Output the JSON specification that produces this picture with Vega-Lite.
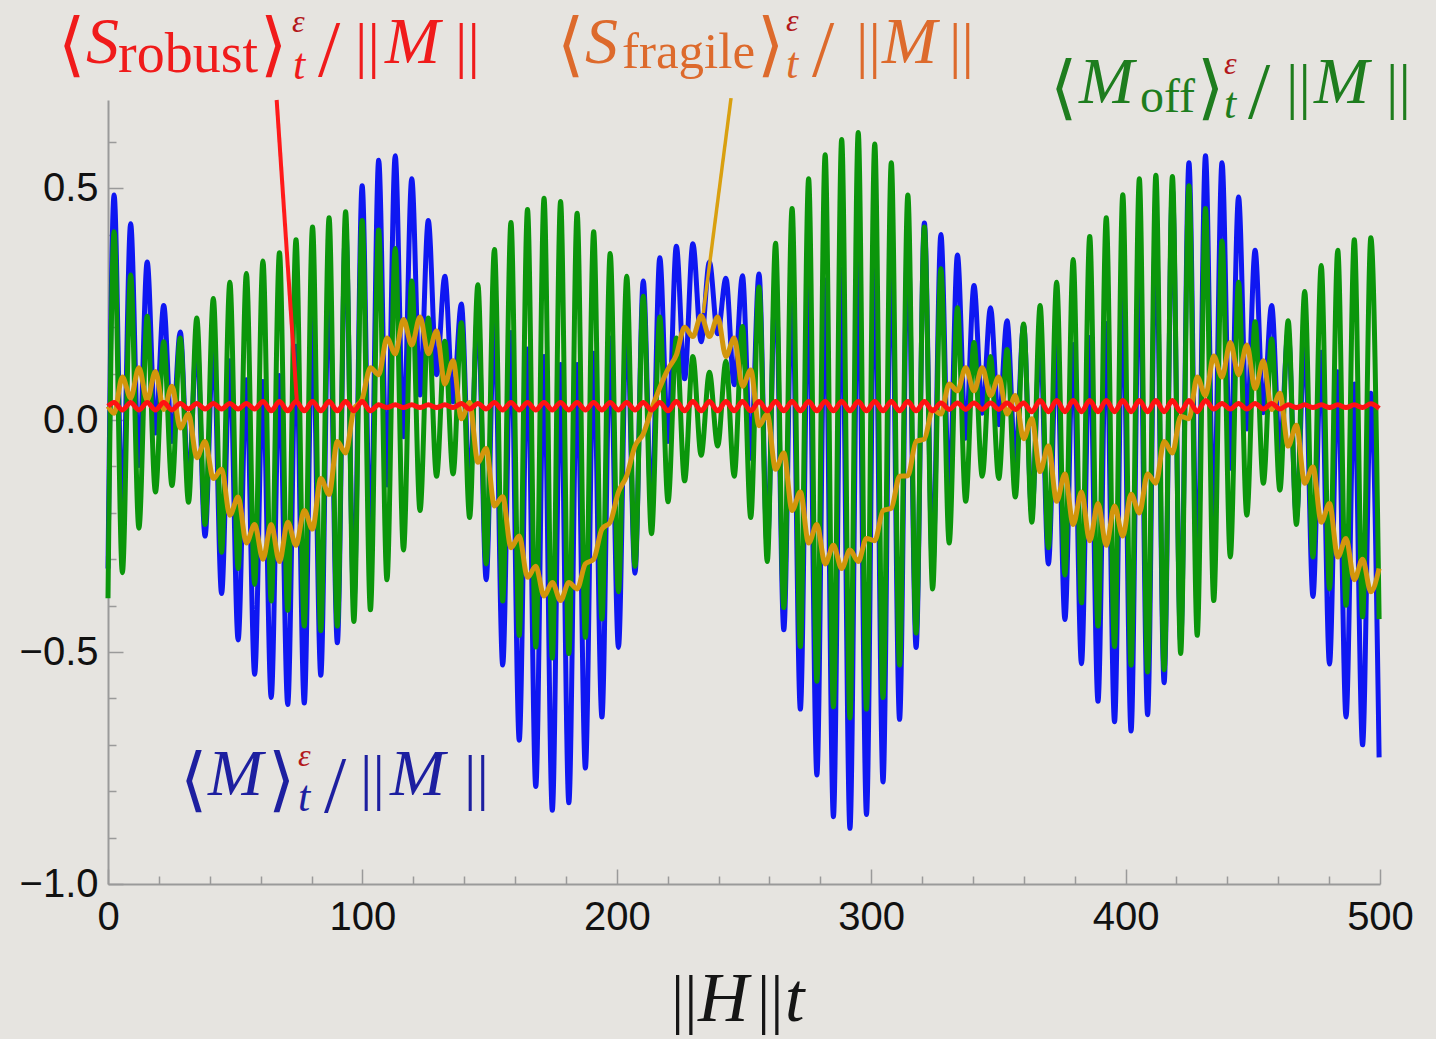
{
"$schema": "https://vega.github.io/schema/vega-lite/v6.json",
"width": 1272, "height": 784,
"autosize": {"type": "none"},
"padding": {"left": 108, "top": 100, "right": 56, "bottom": 155},
"background": "#e6e4e0",
"config": {"view": {"stroke": null}},
"datasets": {"d": [
{"t":0,"M":-0.32,"Moff":-0.384,"Sf":0.03,"Sr":0.03},
{"t":2.4,"M":0.485,"Moff":0.406,"Sf":0.015,"Sr":0.038},
{"t":5.65,"M":-0.214,"Moff":-0.329,"Sf":0.093,"Sr":0.022},
{"t":8.9,"M":0.423,"Moff":0.313,"Sf":0.048,"Sr":0.038},
{"t":12.15,"M":-0.098,"Moff":-0.233,"Sf":0.113,"Sr":0.022},
{"t":15.4,"M":0.341,"Moff":0.224,"Sf":0.043,"Sr":0.038},
{"t":18.65,"M":-0.028,"Moff":-0.155,"Sf":0.105,"Sr":0.022},
{"t":21.9,"M":0.247,"Moff":0.169,"Sf":0.023,"Sr":0.038},
{"t":25.15,"M":-0.046,"Moff":-0.141,"Sf":0.073,"Sr":0.022},
{"t":28.4,"M":0.19,"Moff":0.177,"Sf":-0.017,"Sr":0.036},
{"t":31.65,"M":-0.14,"Moff":-0.177,"Sf":0.013,"Sr":0.024},
{"t":34.9,"M":0.175,"Moff":0.22,"Sf":-0.081,"Sr":0.036},
{"t":38.15,"M":-0.25,"Moff":-0.225,"Sf":-0.046,"Sr":0.024},
{"t":41.4,"M":0.172,"Moff":0.262,"Sf":-0.126,"Sr":0.036},
{"t":44.65,"M":-0.374,"Moff":-0.285,"Sf":-0.106,"Sr":0.024},
{"t":47.9,"M":0.128,"Moff":0.297,"Sf":-0.205,"Sr":0.036},
{"t":51.15,"M":-0.474,"Moff":-0.32,"Sf":-0.166,"Sr":0.024},
{"t":54.4,"M":0.087,"Moff":0.316,"Sf":-0.265,"Sr":0.036},
{"t":57.65,"M":-0.548,"Moff":-0.354,"Sf":-0.225,"Sr":0.024},
{"t":60.9,"M":0.083,"Moff":0.343,"Sf":-0.3,"Sr":0.04},
{"t":64.15,"M":-0.598,"Moff":-0.39,"Sf":-0.225,"Sr":0.02},
{"t":67.4,"M":0.096,"Moff":0.361,"Sf":-0.305,"Sr":0.04},
{"t":70.65,"M":-0.613,"Moff":-0.41,"Sf":-0.22,"Sr":0.02},
{"t":73.9,"M":0.159,"Moff":0.389,"Sf":-0.27,"Sr":0.04},
{"t":77.15,"M":-0.61,"Moff":-0.444,"Sf":-0.195,"Sr":0.02},
{"t":80.4,"M":0.221,"Moff":0.416,"Sf":-0.235,"Sr":0.04},
{"t":83.65,"M":-0.55,"Moff":-0.454,"Sf":-0.126,"Sr":0.02},
{"t":86.9,"M":0.316,"Moff":0.436,"Sf":-0.16,"Sr":0.04},
{"t":90.15,"M":-0.48,"Moff":-0.444,"Sf":-0.046,"Sr":0.02},
{"t":93.4,"M":0.418,"Moff":0.449,"Sf":-0.071,"Sr":0.04},
{"t":96.65,"M":-0.391,"Moff":-0.434,"Sf":0.023,"Sr":0.02},
{"t":99.9,"M":0.505,"Moff":0.43,"Sf":0.045,"Sr":0.04},
{"t":103.15,"M":-0.276,"Moff":-0.409,"Sf":0.113,"Sr":0.02},
{"t":106.4,"M":0.56,"Moff":0.41,"Sf":0.098,"Sr":0.033},
{"t":109.65,"M":-0.14,"Moff":-0.344,"Sf":0.177,"Sr":0.027},
{"t":112.9,"M":0.57,"Moff":0.37,"Sf":0.143,"Sr":0.033},
{"t":116.15,"M":-0.036,"Moff":-0.28,"Sf":0.217,"Sr":0.027},
{"t":119.4,"M":0.52,"Moff":0.3,"Sf":0.162,"Sr":0.033},
{"t":122.65,"M":0.054,"Moff":-0.195,"Sf":0.222,"Sr":0.027},
{"t":125.9,"M":0.43,"Moff":0.22,"Sf":0.143,"Sr":0.033},
{"t":129.15,"M":0.098,"Moff":-0.121,"Sf":0.192,"Sr":0.027},
{"t":132.4,"M":0.31,"Moff":0.17,"Sf":0.078,"Sr":0.033},
{"t":135.65,"M":0.039,"Moff":-0.116,"Sf":0.128,"Sr":0.027},
{"t":138.9,"M":0.25,"Moff":0.21,"Sf":0.003,"Sr":0.036},
{"t":142.15,"M":-0.148,"Moff":-0.21,"Sf":0.038,"Sr":0.024},
{"t":145.4,"M":0.237,"Moff":0.292,"Sf":-0.091,"Sr":0.036},
{"t":148.65,"M":-0.344,"Moff":-0.31,"Sf":-0.061,"Sr":0.024},
{"t":151.9,"M":0.221,"Moff":0.368,"Sf":-0.185,"Sr":0.038},
{"t":155.15,"M":-0.528,"Moff":-0.39,"Sf":-0.165,"Sr":0.022},
{"t":158.4,"M":0.189,"Moff":0.426,"Sf":-0.275,"Sr":0.038},
{"t":161.65,"M":-0.69,"Moff":-0.464,"Sf":-0.25,"Sr":0.022},
{"t":164.9,"M":0.153,"Moff":0.454,"Sf":-0.339,"Sr":0.038},
{"t":168.15,"M":-0.79,"Moff":-0.489,"Sf":-0.315,"Sr":0.022},
{"t":171.4,"M":0.137,"Moff":0.478,"Sf":-0.379,"Sr":0.038},
{"t":174.65,"M":-0.841,"Moff":-0.513,"Sf":-0.35,"Sr":0.022},
{"t":177.9,"M":0.12,"Moff":0.471,"Sf":-0.389,"Sr":0.038},
{"t":181.15,"M":-0.825,"Moff":-0.503,"Sf":-0.35,"Sr":0.022},
{"t":184.4,"M":0.12,"Moff":0.446,"Sf":-0.364,"Sr":0.038},
{"t":187.65,"M":-0.75,"Moff":-0.468,"Sf":-0.31,"Sr":0.022},
{"t":190.9,"M":0.144,"Moff":0.406,"Sf":-0.3,"Sr":0.038},
{"t":194.15,"M":-0.64,"Moff":-0.429,"Sf":-0.235,"Sr":0.022},
{"t":197.4,"M":0.177,"Moff":0.359,"Sf":-0.22,"Sr":0.038},
{"t":200.65,"M":-0.49,"Moff":-0.37,"Sf":-0.155,"Sr":0.022},
{"t":203.9,"M":0.228,"Moff":0.31,"Sf":-0.12,"Sr":0.038},
{"t":207.15,"M":-0.33,"Moff":-0.315,"Sf":-0.056,"Sr":0.022},
{"t":210.4,"M":0.3,"Moff":0.267,"Sf":-0.03,"Sr":0.038},
{"t":213.65,"M":-0.2,"Moff":-0.245,"Sf":0.023,"Sr":0.022},
{"t":216.9,"M":0.35,"Moff":0.222,"Sf":0.07,"Sr":0.038},
{"t":220.15,"M":-0.046,"Moff":-0.176,"Sf":0.11,"Sr":0.02},
{"t":223.4,"M":0.375,"Moff":0.177,"Sf":0.14,"Sr":0.04},
{"t":226.65,"M":0.089,"Moff":-0.131,"Sf":0.2,"Sr":0.02},
{"t":229.9,"M":0.38,"Moff":0.137,"Sf":0.18,"Sr":0.04},
{"t":233.15,"M":0.169,"Moff":-0.076,"Sf":0.225,"Sr":0.02},
{"t":236.4,"M":0.341,"Moff":0.103,"Sf":0.18,"Sr":0.04},
{"t":239.65,"M":0.186,"Moff":-0.056,"Sf":0.222,"Sr":0.02},
{"t":242.9,"M":0.306,"Moff":0.127,"Sf":0.137,"Sr":0.04},
{"t":246.15,"M":0.076,"Moff":-0.121,"Sf":0.177,"Sr":0.02},
{"t":249.4,"M":0.311,"Moff":0.202,"Sf":0.073,"Sr":0.04},
{"t":252.65,"M":-0.082,"Moff":-0.21,"Sf":0.108,"Sr":0.02},
{"t":255.9,"M":0.315,"Moff":0.287,"Sf":-0.012,"Sr":0.04},
{"t":259.15,"M":-0.272,"Moff":-0.305,"Sf":0.013,"Sr":0.02},
{"t":262.4,"M":0.315,"Moff":0.381,"Sf":-0.106,"Sr":0.04},
{"t":265.65,"M":-0.452,"Moff":-0.404,"Sf":-0.071,"Sr":0.02},
{"t":268.9,"M":0.301,"Moff":0.456,"Sf":-0.195,"Sr":0.04},
{"t":272.15,"M":-0.623,"Moff":-0.488,"Sf":-0.155,"Sr":0.02},
{"t":275.4,"M":0.295,"Moff":0.52,"Sf":-0.265,"Sr":0.04},
{"t":278.65,"M":-0.765,"Moff":-0.563,"Sf":-0.225,"Sr":0.02},
{"t":281.9,"M":0.302,"Moff":0.572,"Sf":-0.31,"Sr":0.04},
{"t":285.15,"M":-0.855,"Moff":-0.618,"Sf":-0.27,"Sr":0.02},
{"t":288.4,"M":0.325,"Moff":0.605,"Sf":-0.32,"Sr":0.04},
{"t":291.65,"M":-0.88,"Moff":-0.642,"Sf":-0.28,"Sr":0.02},
{"t":294.9,"M":0.355,"Moff":0.62,"Sf":-0.305,"Sr":0.04},
{"t":298.15,"M":-0.85,"Moff":-0.623,"Sf":-0.255,"Sr":0.02},
{"t":301.4,"M":0.375,"Moff":0.595,"Sf":-0.26,"Sr":0.04},
{"t":304.65,"M":-0.78,"Moff":-0.598,"Sf":-0.195,"Sr":0.02},
{"t":307.9,"M":0.405,"Moff":0.555,"Sf":-0.19,"Sr":0.04},
{"t":311.15,"M":-0.645,"Moff":-0.528,"Sf":-0.121,"Sr":0.02},
{"t":314.4,"M":0.405,"Moff":0.485,"Sf":-0.12,"Sr":0.04},
{"t":317.65,"M":-0.49,"Moff":-0.459,"Sf":-0.046,"Sr":0.02},
{"t":320.9,"M":0.425,"Moff":0.416,"Sf":-0.041,"Sr":0.04},
{"t":324.15,"M":-0.321,"Moff":-0.364,"Sf":0.023,"Sr":0.02},
{"t":327.4,"M":0.4,"Moff":0.326,"Sf":0.013,"Sr":0.037},
{"t":330.65,"M":-0.164,"Moff":-0.265,"Sf":0.078,"Sr":0.023},
{"t":333.9,"M":0.356,"Moff":0.242,"Sf":0.063,"Sr":0.037},
{"t":337.15,"M":-0.039,"Moff":-0.175,"Sf":0.113,"Sr":0.023},
{"t":340.4,"M":0.29,"Moff":0.167,"Sf":0.063,"Sr":0.037},
{"t":343.65,"M":0.015,"Moff":-0.121,"Sf":0.113,"Sr":0.023},
{"t":346.9,"M":0.242,"Moff":0.137,"Sf":0.053,"Sr":0.037},
{"t":350.15,"M":-0.01,"Moff":-0.126,"Sf":0.093,"Sr":0.023},
{"t":353.4,"M":0.214,"Moff":0.152,"Sf":0.013,"Sr":0.037},
{"t":356.65,"M":-0.09,"Moff":-0.166,"Sf":0.053,"Sr":0.023},
{"t":359.9,"M":0.204,"Moff":0.207,"Sf":-0.04,"Sr":0.037},
{"t":363.15,"M":-0.2,"Moff":-0.22,"Sf":0.003,"Sr":0.018},
{"t":366.4,"M":0.178,"Moff":0.247,"Sf":-0.111,"Sr":0.042},
{"t":369.65,"M":-0.31,"Moff":-0.275,"Sf":-0.056,"Sr":0.018},
{"t":372.9,"M":0.164,"Moff":0.297,"Sf":-0.175,"Sr":0.042},
{"t":376.15,"M":-0.43,"Moff":-0.334,"Sf":-0.116,"Sr":0.018},
{"t":379.4,"M":0.163,"Moff":0.346,"Sf":-0.225,"Sr":0.042},
{"t":382.65,"M":-0.525,"Moff":-0.394,"Sf":-0.155,"Sr":0.018},
{"t":385.9,"M":0.178,"Moff":0.396,"Sf":-0.26,"Sr":0.042},
{"t":389.15,"M":-0.606,"Moff":-0.444,"Sf":-0.18,"Sr":0.018},
{"t":392.4,"M":0.208,"Moff":0.436,"Sf":-0.27,"Sr":0.042},
{"t":395.65,"M":-0.65,"Moff":-0.488,"Sf":-0.185,"Sr":0.018},
{"t":398.9,"M":0.278,"Moff":0.486,"Sf":-0.25,"Sr":0.042},
{"t":402.15,"M":-0.67,"Moff":-0.528,"Sf":-0.16,"Sr":0.018},
{"t":405.4,"M":0.362,"Moff":0.52,"Sf":-0.2,"Sr":0.042},
{"t":408.65,"M":-0.635,"Moff":-0.543,"Sf":-0.116,"Sr":0.018},
{"t":411.9,"M":0.434,"Moff":0.528,"Sf":-0.136,"Sr":0.042},
{"t":415.15,"M":-0.566,"Moff":-0.538,"Sf":-0.046,"Sr":0.018},
{"t":418.4,"M":0.496,"Moff":0.525,"Sf":-0.071,"Sr":0.042},
{"t":421.65,"M":-0.477,"Moff":-0.503,"Sf":0.008,"Sr":0.018},
{"t":424.9,"M":0.555,"Moff":0.505,"Sf":0.003,"Sr":0.042},
{"t":428.15,"M":-0.353,"Moff":-0.464,"Sf":0.093,"Sr":0.018},
{"t":431.4,"M":0.57,"Moff":0.456,"Sf":0.053,"Sr":0.042},
{"t":434.65,"M":-0.227,"Moff":-0.389,"Sf":0.138,"Sr":0.024},
{"t":437.9,"M":0.555,"Moff":0.386,"Sf":0.093,"Sr":0.036},
{"t":441.15,"M":-0.104,"Moff":-0.295,"Sf":0.167,"Sr":0.024},
{"t":444.4,"M":0.481,"Moff":0.297,"Sf":0.098,"Sr":0.036},
{"t":447.65,"M":-0.019,"Moff":-0.205,"Sf":0.162,"Sr":0.024},
{"t":450.9,"M":0.366,"Moff":0.212,"Sf":0.068,"Sr":0.036},
{"t":454.15,"M":0.016,"Moff":-0.136,"Sf":0.128,"Sr":0.024},
{"t":457.4,"M":0.247,"Moff":0.175,"Sf":0.023,"Sr":0.036},
{"t":460.65,"M":-0.069,"Moff":-0.151,"Sf":0.058,"Sr":0.024},
{"t":463.9,"M":0.191,"Moff":0.214,"Sf":-0.056,"Sr":0.033},
{"t":467.15,"M":-0.209,"Moff":-0.225,"Sf":-0.011,"Sr":0.027},
{"t":470.4,"M":0.174,"Moff":0.277,"Sf":-0.136,"Sr":0.033},
{"t":473.65,"M":-0.38,"Moff":-0.295,"Sf":-0.101,"Sr":0.027},
{"t":476.9,"M":0.146,"Moff":0.333,"Sf":-0.22,"Sr":0.033},
{"t":480.15,"M":-0.526,"Moff":-0.364,"Sf":-0.18,"Sr":0.027},
{"t":483.4,"M":0.104,"Moff":0.366,"Sf":-0.295,"Sr":0.033},
{"t":486.65,"M":-0.64,"Moff":-0.399,"Sf":-0.255,"Sr":0.027},
{"t":489.9,"M":0.078,"Moff":0.389,"Sf":-0.344,"Sr":0.033},
{"t":493.15,"M":-0.7,"Moff":-0.424,"Sf":-0.3,"Sr":0.027},
{"t":496.4,"M":0.058,"Moff":0.393,"Sf":-0.37,"Sr":0.035},
{"t":499.65,"M":-0.727,"Moff":-0.429,"Sf":-0.32,"Sr":0.025}
], "one": [{"k": 1}]},
"layer": [
  {"data": {"name": "d"},
   "mark": {"type": "line", "color": "#0f17f2", "strokeWidth": 5, "interpolate": "monotone"},
   "encoding": {
     "x": {"field": "t", "type": "quantitative",
       "scale": {"domain": [0, 500], "nice": false, "zero": false},
       "axis": {
         "title": null,
         "values": [0,20,40,60,80,100,120,140,160,180,200,220,240,260,280,300,320,340,360,380,400,420,440,460,480,500],
         "format": "d",
         "labelExpr": "datum.value % 100 === 0 ? datum.label : ''",
         "labelFont": "Liberation Sans", "labelFontSize": 40, "labelColor": "#111111",
         "labelFlush": false, "labelOverlap": false, "labelPadding": 28,
         "tickSize": {"condition": {"test": "datum.value % 100 === 0", "value": -15}, "value": -8},
         "tickColor": "#9a9a9a", "tickWidth": 1.5,
         "domainColor": "#9a9a9a", "domainWidth": 2, "grid": false
       }},
     "y": {"field": "M", "type": "quantitative",
       "scale": {"domain": [-1, 0.69], "nice": false, "zero": false},
       "axis": {
         "title": null,
         "values": [-1,-0.9,-0.8,-0.7,-0.6,-0.5,-0.4,-0.3,-0.2,-0.1,0,0.1,0.2,0.3,0.4,0.5,0.6],
         "labelExpr": "abs(datum.value*2 - round(datum.value*2)) < 0.001 ? format(datum.value, '.1f') : ''",
         "labelFont": "Liberation Sans", "labelFontSize": 40, "labelColor": "#111111",
         "labelFlush": false, "labelOverlap": false, "labelPadding": 25,
         "tickSize": {"condition": {"test": "abs(datum.value*2 - round(datum.value*2)) < 0.001", "value": -15}, "value": -8},
         "tickColor": "#9a9a9a", "tickWidth": 1.5,
         "domainColor": "#9a9a9a", "domainWidth": 2, "grid": false
       }}}},
  {"data": {"name": "d"},
   "mark": {"type": "line", "color": "#0b960b", "strokeWidth": 5, "interpolate": "monotone"},
   "encoding": {"x": {"field": "t", "type": "quantitative"}, "y": {"field": "Moff", "type": "quantitative"}}},
  {"data": {"name": "d"},
   "mark": {"type": "line", "color": "#d3960c", "strokeWidth": 5, "interpolate": "monotone"},
   "encoding": {"x": {"field": "t", "type": "quantitative"}, "y": {"field": "Sf", "type": "quantitative"}}},
  {"data": {"name": "d"},
   "mark": {"type": "line", "color": "#ff1212", "strokeWidth": 5, "interpolate": "monotone"},
   "encoding": {"x": {"field": "t", "type": "quantitative"}, "y": {"field": "Sr", "type": "quantitative"}}},
  {"data": {"name": "one"},
   "mark": {"type": "rule", "color": "#ff1a1a", "strokeWidth": 4},
   "encoding": {"x": {"datum": 66.3}, "y": {"datum": 0.69}, "x2": {"datum": 74.2}, "y2": {"datum": 0.043}}},
  {"data": {"name": "one"},
   "mark": {"type": "rule", "color": "#d9a010", "strokeWidth": 3.5},
   "encoding": {"x": {"datum": 244.9}, "y": {"datum": 0.694}, "x2": {"datum": 234.0}, "y2": {"datum": 0.231}}},

  {"data": {"name": "one"}, "mark": {"type": "text", "text": "⟨", "font": "DejaVu Serif", "fontSize": 70, "color": "#f01b1b", "align": "left", "baseline": "alphabetic"}, "encoding": {"x": {"datum": -19.65}, "y": {"datum": 0.759}}},
  {"data": {"name": "one"}, "mark": {"type": "text", "text": "S", "font": "Liberation Serif", "fontStyle": "italic", "fontSize": 66, "color": "#f01b1b", "align": "left", "baseline": "alphabetic"}, "encoding": {"x": {"datum": -8.65}, "y": {"datum": 0.7698}}},
  {"data": {"name": "one"}, "mark": {"type": "text", "text": "robust", "font": "Liberation Serif", "fontSize": 56, "color": "#f01b1b", "align": "left", "baseline": "alphabetic"}, "encoding": {"x": {"datum": 3.93}, "y": {"datum": 0.7504}}},
  {"data": {"name": "one"}, "mark": {"type": "text", "text": "⟩", "font": "DejaVu Serif", "fontSize": 70, "color": "#f01b1b", "align": "left", "baseline": "alphabetic"}, "encoding": {"x": {"datum": 59.75}, "y": {"datum": 0.759}}},
  {"data": {"name": "one"}, "mark": {"type": "text", "text": "ε", "font": "Liberation Serif", "fontStyle": "italic", "fontSize": 32, "color": "#b3181c", "align": "left", "baseline": "alphabetic"}, "encoding": {"x": {"datum": 72.33}, "y": {"datum": 0.8366}}},
  {"data": {"name": "one"}, "mark": {"type": "text", "text": "t", "font": "Liberation Serif", "fontStyle": "italic", "fontSize": 44, "color": "#f01b1b", "align": "left", "baseline": "alphabetic"}, "encoding": {"x": {"datum": 72.72}, "y": {"datum": 0.7353}}},
  {"data": {"name": "one"}, "mark": {"type": "text", "text": "/", "font": "Liberation Serif", "fontSize": 80, "color": "#f01b1b", "align": "left", "baseline": "alphabetic"}, "encoding": {"x": {"datum": 82.55}, "y": {"datum": 0.7417}}},
  {"data": {"name": "one"}, "mark": {"type": "text", "text": "||", "font": "Liberation Serif", "fontSize": 62, "color": "#f01b1b", "align": "left", "baseline": "alphabetic"}, "encoding": {"x": {"datum": 97.09}, "y": {"datum": 0.7633}}},
  {"data": {"name": "one"}, "mark": {"type": "text", "text": "M", "font": "Liberation Serif", "fontStyle": "italic", "fontSize": 66, "color": "#f01b1b", "align": "left", "baseline": "alphabetic"}, "encoding": {"x": {"datum": 108.88}, "y": {"datum": 0.7698}}},
  {"data": {"name": "one"}, "mark": {"type": "text", "text": "||", "font": "Liberation Serif", "fontSize": 62, "color": "#f01b1b", "align": "left", "baseline": "alphabetic"}, "encoding": {"x": {"datum": 136.4}, "y": {"datum": 0.7633}}},

  {"data": {"name": "one"}, "mark": {"type": "text", "text": "⟨", "font": "DejaVu Serif", "fontSize": 70, "color": "#dd6a2c", "align": "left", "baseline": "alphabetic"}, "encoding": {"x": {"datum": 176.49}, "y": {"datum": 0.759}}},
  {"data": {"name": "one"}, "mark": {"type": "text", "text": "S", "font": "Liberation Serif", "fontStyle": "italic", "fontSize": 66, "color": "#dd6a2c", "align": "left", "baseline": "alphabetic"}, "encoding": {"x": {"datum": 187.5}, "y": {"datum": 0.7698}}},
  {"data": {"name": "one"}, "mark": {"type": "text", "text": "fragile", "font": "Liberation Serif", "fontSize": 51, "color": "#dd6a2c", "align": "left", "baseline": "alphabetic"}, "encoding": {"x": {"datum": 202.04}, "y": {"datum": 0.759}}},
  {"data": {"name": "one"}, "mark": {"type": "text", "text": "⟩", "font": "DejaVu Serif", "fontSize": 70, "color": "#dd6a2c", "align": "left", "baseline": "alphabetic"}, "encoding": {"x": {"datum": 255.11}, "y": {"datum": 0.759}}},
  {"data": {"name": "one"}, "mark": {"type": "text", "text": "ε", "font": "Liberation Serif", "fontStyle": "italic", "fontSize": 32, "color": "#b3181c", "align": "left", "baseline": "alphabetic"}, "encoding": {"x": {"datum": 266.51}, "y": {"datum": 0.8387}}},
  {"data": {"name": "one"}, "mark": {"type": "text", "text": "t", "font": "Liberation Serif", "fontStyle": "italic", "fontSize": 44, "color": "#dd6a2c", "align": "left", "baseline": "alphabetic"}, "encoding": {"x": {"datum": 266.51}, "y": {"datum": 0.7374}}},
  {"data": {"name": "one"}, "mark": {"type": "text", "text": "/", "font": "Liberation Serif", "fontSize": 80, "color": "#dd6a2c", "align": "left", "baseline": "alphabetic"}, "encoding": {"x": {"datum": 276.73}, "y": {"datum": 0.7417}}},
  {"data": {"name": "one"}, "mark": {"type": "text", "text": "||", "font": "Liberation Serif", "fontSize": 62, "color": "#dd6a2c", "align": "left", "baseline": "alphabetic"}, "encoding": {"x": {"datum": 294.03}, "y": {"datum": 0.7633}}},
  {"data": {"name": "one"}, "mark": {"type": "text", "text": "M", "font": "Liberation Serif", "fontStyle": "italic", "fontSize": 66, "color": "#dd6a2c", "align": "left", "baseline": "alphabetic"}, "encoding": {"x": {"datum": 304.25}, "y": {"datum": 0.7698}}},
  {"data": {"name": "one"}, "mark": {"type": "text", "text": "||", "font": "Liberation Serif", "fontSize": 62, "color": "#dd6a2c", "align": "left", "baseline": "alphabetic"}, "encoding": {"x": {"datum": 330.58}, "y": {"datum": 0.7633}}},

  {"data": {"name": "one"}, "mark": {"type": "text", "text": "⟨", "font": "DejaVu Serif", "fontSize": 70, "color": "#1e7d1e", "align": "left", "baseline": "alphabetic"}, "encoding": {"x": {"datum": 370.28}, "y": {"datum": 0.6663}}},
  {"data": {"name": "one"}, "mark": {"type": "text", "text": "M", "font": "Liberation Serif", "fontStyle": "italic", "fontSize": 66, "color": "#1e7d1e", "align": "left", "baseline": "alphabetic"}, "encoding": {"x": {"datum": 381.68}, "y": {"datum": 0.6835}}},
  {"data": {"name": "one"}, "mark": {"type": "text", "text": "off", "font": "Liberation Serif", "fontSize": 48, "color": "#1e7d1e", "align": "left", "baseline": "alphabetic"}, "encoding": {"x": {"datum": 405.66}, "y": {"datum": 0.6641}}},
  {"data": {"name": "one"}, "mark": {"type": "text", "text": "⟩", "font": "DejaVu Serif", "fontSize": 70, "color": "#1e7d1e", "align": "left", "baseline": "alphabetic"}, "encoding": {"x": {"datum": 428.07}, "y": {"datum": 0.6663}}},
  {"data": {"name": "one"}, "mark": {"type": "text", "text": "ε", "font": "Liberation Serif", "fontStyle": "italic", "fontSize": 32, "color": "#b3181c", "align": "left", "baseline": "alphabetic"}, "encoding": {"x": {"datum": 438.68}, "y": {"datum": 0.746}}},
  {"data": {"name": "one"}, "mark": {"type": "text", "text": "t", "font": "Liberation Serif", "fontStyle": "italic", "fontSize": 44, "color": "#1e7d1e", "align": "left", "baseline": "alphabetic"}, "encoding": {"x": {"datum": 438.68}, "y": {"datum": 0.6512}}},
  {"data": {"name": "one"}, "mark": {"type": "text", "text": "/", "font": "Liberation Serif", "fontSize": 80, "color": "#1e7d1e", "align": "left", "baseline": "alphabetic"}, "encoding": {"x": {"datum": 448.11}, "y": {"datum": 0.6512}}},
  {"data": {"name": "one"}, "mark": {"type": "text", "text": "||", "font": "Liberation Serif", "fontSize": 62, "color": "#1e7d1e", "align": "left", "baseline": "alphabetic"}, "encoding": {"x": {"datum": 463.05}, "y": {"datum": 0.6749}}},
  {"data": {"name": "one"}, "mark": {"type": "text", "text": "M", "font": "Liberation Serif", "fontStyle": "italic", "fontSize": 66, "color": "#1e7d1e", "align": "left", "baseline": "alphabetic"}, "encoding": {"x": {"datum": 474.06}, "y": {"datum": 0.6835}}},
  {"data": {"name": "one"}, "mark": {"type": "text", "text": "||", "font": "Liberation Serif", "fontSize": 62, "color": "#1e7d1e", "align": "left", "baseline": "alphabetic"}, "encoding": {"x": {"datum": 502.36}, "y": {"datum": 0.6749}}},

  {"data": {"name": "one"}, "mark": {"type": "text", "text": "⟨", "font": "DejaVu Serif", "fontSize": 70, "color": "#1d1fa0", "align": "left", "baseline": "alphabetic"}, "encoding": {"x": {"datum": 28.3}, "y": {"datum": -0.8254}}},
  {"data": {"name": "one"}, "mark": {"type": "text", "text": "M", "font": "Liberation Serif", "fontStyle": "italic", "fontSize": 66, "color": "#1d1fa0", "align": "left", "baseline": "alphabetic"}, "encoding": {"x": {"datum": 39.31}, "y": {"datum": -0.8081}}},
  {"data": {"name": "one"}, "mark": {"type": "text", "text": "⟩", "font": "DejaVu Serif", "fontSize": 70, "color": "#1d1fa0", "align": "left", "baseline": "alphabetic"}, "encoding": {"x": {"datum": 62.89}, "y": {"datum": -0.8254}}},
  {"data": {"name": "one"}, "mark": {"type": "text", "text": "ε", "font": "Liberation Serif", "fontStyle": "italic", "fontSize": 32, "color": "#b3181c", "align": "left", "baseline": "alphabetic"}, "encoding": {"x": {"datum": 74.69}, "y": {"datum": -0.7456}}},
  {"data": {"name": "one"}, "mark": {"type": "text", "text": "t", "font": "Liberation Serif", "fontStyle": "italic", "fontSize": 44, "color": "#1d1fa0", "align": "left", "baseline": "alphabetic"}, "encoding": {"x": {"datum": 74.69}, "y": {"datum": -0.8426}}},
  {"data": {"name": "one"}, "mark": {"type": "text", "text": "/", "font": "Liberation Serif", "fontSize": 80, "color": "#1d1fa0", "align": "left", "baseline": "alphabetic"}, "encoding": {"x": {"datum": 84.91}, "y": {"datum": -0.8448}}},
  {"data": {"name": "one"}, "mark": {"type": "text", "text": "||", "font": "Liberation Serif", "fontSize": 62, "color": "#1d1fa0", "align": "left", "baseline": "alphabetic"}, "encoding": {"x": {"datum": 99.06}, "y": {"datum": -0.8146}}},
  {"data": {"name": "one"}, "mark": {"type": "text", "text": "M", "font": "Liberation Serif", "fontStyle": "italic", "fontSize": 66, "color": "#1d1fa0", "align": "left", "baseline": "alphabetic"}, "encoding": {"x": {"datum": 110.85}, "y": {"datum": -0.8081}}},
  {"data": {"name": "one"}, "mark": {"type": "text", "text": "||", "font": "Liberation Serif", "fontSize": 62, "color": "#1d1fa0", "align": "left", "baseline": "alphabetic"}, "encoding": {"x": {"datum": 139.94}, "y": {"datum": -0.8146}}},

  {"data": {"name": "one"}, "mark": {"type": "text", "text": "||", "font": "Liberation Serif", "fontSize": 66, "color": "#151515", "align": "left", "baseline": "alphabetic"}, "encoding": {"x": {"datum": 221.31}, "y": {"datum": -1.2953}}},
  {"data": {"name": "one"}, "mark": {"type": "text", "text": "H", "font": "Liberation Serif", "fontStyle": "italic", "fontSize": 70, "color": "#151515", "align": "left", "baseline": "alphabetic"}, "encoding": {"x": {"datum": 231.92}, "y": {"datum": -1.2953}}},
  {"data": {"name": "one"}, "mark": {"type": "text", "text": "||", "font": "Liberation Serif", "fontSize": 66, "color": "#151515", "align": "left", "baseline": "alphabetic"}, "encoding": {"x": {"datum": 255.11}, "y": {"datum": -1.2953}}},
  {"data": {"name": "one"}, "mark": {"type": "text", "text": "t", "font": "Liberation Serif", "fontStyle": "italic", "fontSize": 70, "color": "#151515", "align": "left", "baseline": "alphabetic"}, "encoding": {"x": {"datum": 266.12}, "y": {"datum": -1.2953}}}
]
}
